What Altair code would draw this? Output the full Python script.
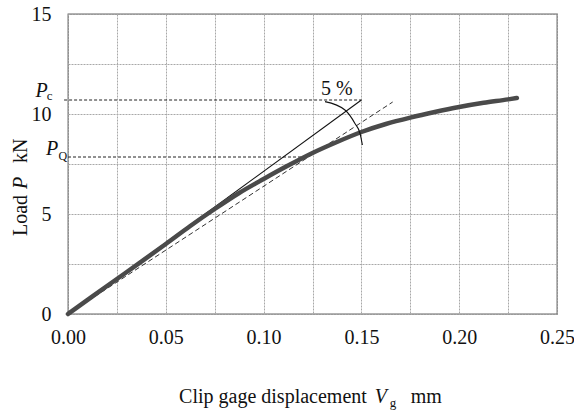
import altair as alt
import pandas as pd

# ---- data ----
disp = [0.0, 0.0125, 0.025, 0.0375, 0.05, 0.0625, 0.075, 0.0875, 0.1, 0.1125,
        0.125, 0.1375, 0.15, 0.1625, 0.175, 0.1875, 0.2, 0.2125, 0.225, 0.2295]
load = [0.0, 0.88, 1.75, 2.62, 3.5, 4.4, 5.25, 6.05, 6.75, 7.42,
        8.05, 8.6, 9.1, 9.5, 9.82, 10.1, 10.35, 10.56, 10.73, 10.8]

tangent_x = [0.0, 0.150]
tangent_y = [0.0, 10.7]
secant_x = [0.0, 0.166]
secant_y = [0.0, 10.6]
pc_x = [-0.002, 0.150]
pc_y = [10.7, 10.7]
pq_x = [0.0, 0.120]
pq_y = [7.85, 7.85]
arc_x = [0.1314, 0.1416, 0.1467, 0.1493, 0.1505]
arc_y = [10.62, 10.2, 9.53, 9.03, 8.45]

x_ticks = [0.0, 0.025, 0.05, 0.075, 0.1, 0.125, 0.15, 0.175, 0.2, 0.225, 0.25]
y_ticks = [0.0, 2.5, 5.0, 7.5, 10.0, 12.5, 15.0]

FONT = "Liberation Serif"

xs = alt.Scale(domain=[0, 0.25], nice=False, zero=False)
ys = alt.Scale(domain=[0, 15], nice=False, zero=False)

x_axis = alt.Axis(
    values=x_ticks,
    labelExpr="round(datum.value*40) % 2 == 0 ? format(datum.value, '.2f') : ''",
    grid=True, gridColor="#a8a8a8", gridDash=[2, 1], gridWidth=1,
    ticks=False, domain=False, labelFont=FONT, labelFontSize=20,
    labelColor="#111111", labelPadding=13, labelOverlap=False, labelFlush=False,
    labelBound=False, title=None,
)
y_axis = alt.Axis(
    values=y_ticks,
    labelExpr="datum.value % 5 == 0 ? format(datum.value, 'd') : ''",
    grid=True, gridColor="#a8a8a8", gridDash=[2, 1], gridWidth=1,
    ticks=False, domain=False, labelFont=FONT, labelFontSize=20,
    labelColor="#111111", labelPadding=17, labelOverlap=False, labelFlush=False,
    labelBound=False, labelBaseline="middle", title=None,
)


def X():
    return alt.X("x:Q", scale=xs, axis=x_axis)


def Y():
    return alt.Y("y:Q", scale=ys, axis=y_axis)


def line_layer(xv, yv, color, width, dash=None, interp=None, cap="butt"):
    df = pd.DataFrame({"x": xv, "y": yv, "o": list(range(len(xv)))})
    kw = dict(color=color, strokeWidth=width, strokeCap=cap, clip=False)
    if dash:
        kw["strokeDash"] = dash
    if interp:
        kw["interpolate"] = interp
    return alt.Chart(df).mark_line(**kw).encode(x=X(), y=Y(), order="o:Q")


def text_layer(xv, yv, txt, size=20, style="normal", align="left",
               baseline="alphabetic", angle=None):
    df = pd.DataFrame({"x": [xv], "y": [yv], "t": [txt]})
    kw = dict(font=FONT, fontSize=size, fontStyle=style, align=align,
              baseline=baseline, color="#111111")
    if angle is not None:
        kw["angle"] = angle
    return alt.Chart(df).mark_text(**kw).encode(x=X(), y=Y(), text="t:N")


layers = [
    line_layer(pc_x, pc_y, "#222222", 1, dash=[3, 2]),
    line_layer(pq_x, pq_y, "#222222", 1, dash=[3, 2]),
    line_layer(secant_x, secant_y, "#333333", 1, dash=[5, 3]),
    line_layer(tangent_x, tangent_y, "#111111", 1.1),
    line_layer(disp, load, "#4a4a4a", 4.5, interp="monotone", cap="round"),
    line_layer(arc_x, arc_y, "#111111", 1.1, interp="monotone"),
    # 5 % label
    text_layer(0.1375, 11.25, "5 %", size=20, align="center", baseline="middle"),
    # P_c and P_Q labels
    text_layer(-0.0166, 10.85, "P", size=20, style="italic"),
    text_layer(-0.0109, 10.68, "c", size=13),
    text_layer(-0.0112, 7.95, "P", size=20, style="italic"),
    text_layer(-0.0049, 7.72, "Q", size=12),
    # x-axis title pieces
    text_layer(0.0568, -4.45, "Clip gage displacement", size=20),
    text_layer(0.1568, -4.45, "V", size=20, style="italic"),
    text_layer(0.1645, -4.65, "g", size=13),
    text_layer(0.1752, -4.45, "mm", size=20),
    # y-axis title pieces (rotated)
    text_layer(-0.021, 3.9, "Load", size=20, angle=270),
    text_layer(-0.021, 6.25, "P", size=20, style="italic", angle=270),
    text_layer(-0.021, 7.55, "kN", size=20, angle=270),
]

chart = (
    alt.layer(*layers)
    .properties(
        width=489, height=300,
        autosize=alt.AutoSizeParams(type="none"),
        padding={"left": 68, "top": 14, "right": 17, "bottom": 98},
        background="white",
    )
    .configure_view(stroke="#666666", strokeWidth=1.3)
)

chart.save("out.html", embed_options={"renderer": "svg", "actions": False})
